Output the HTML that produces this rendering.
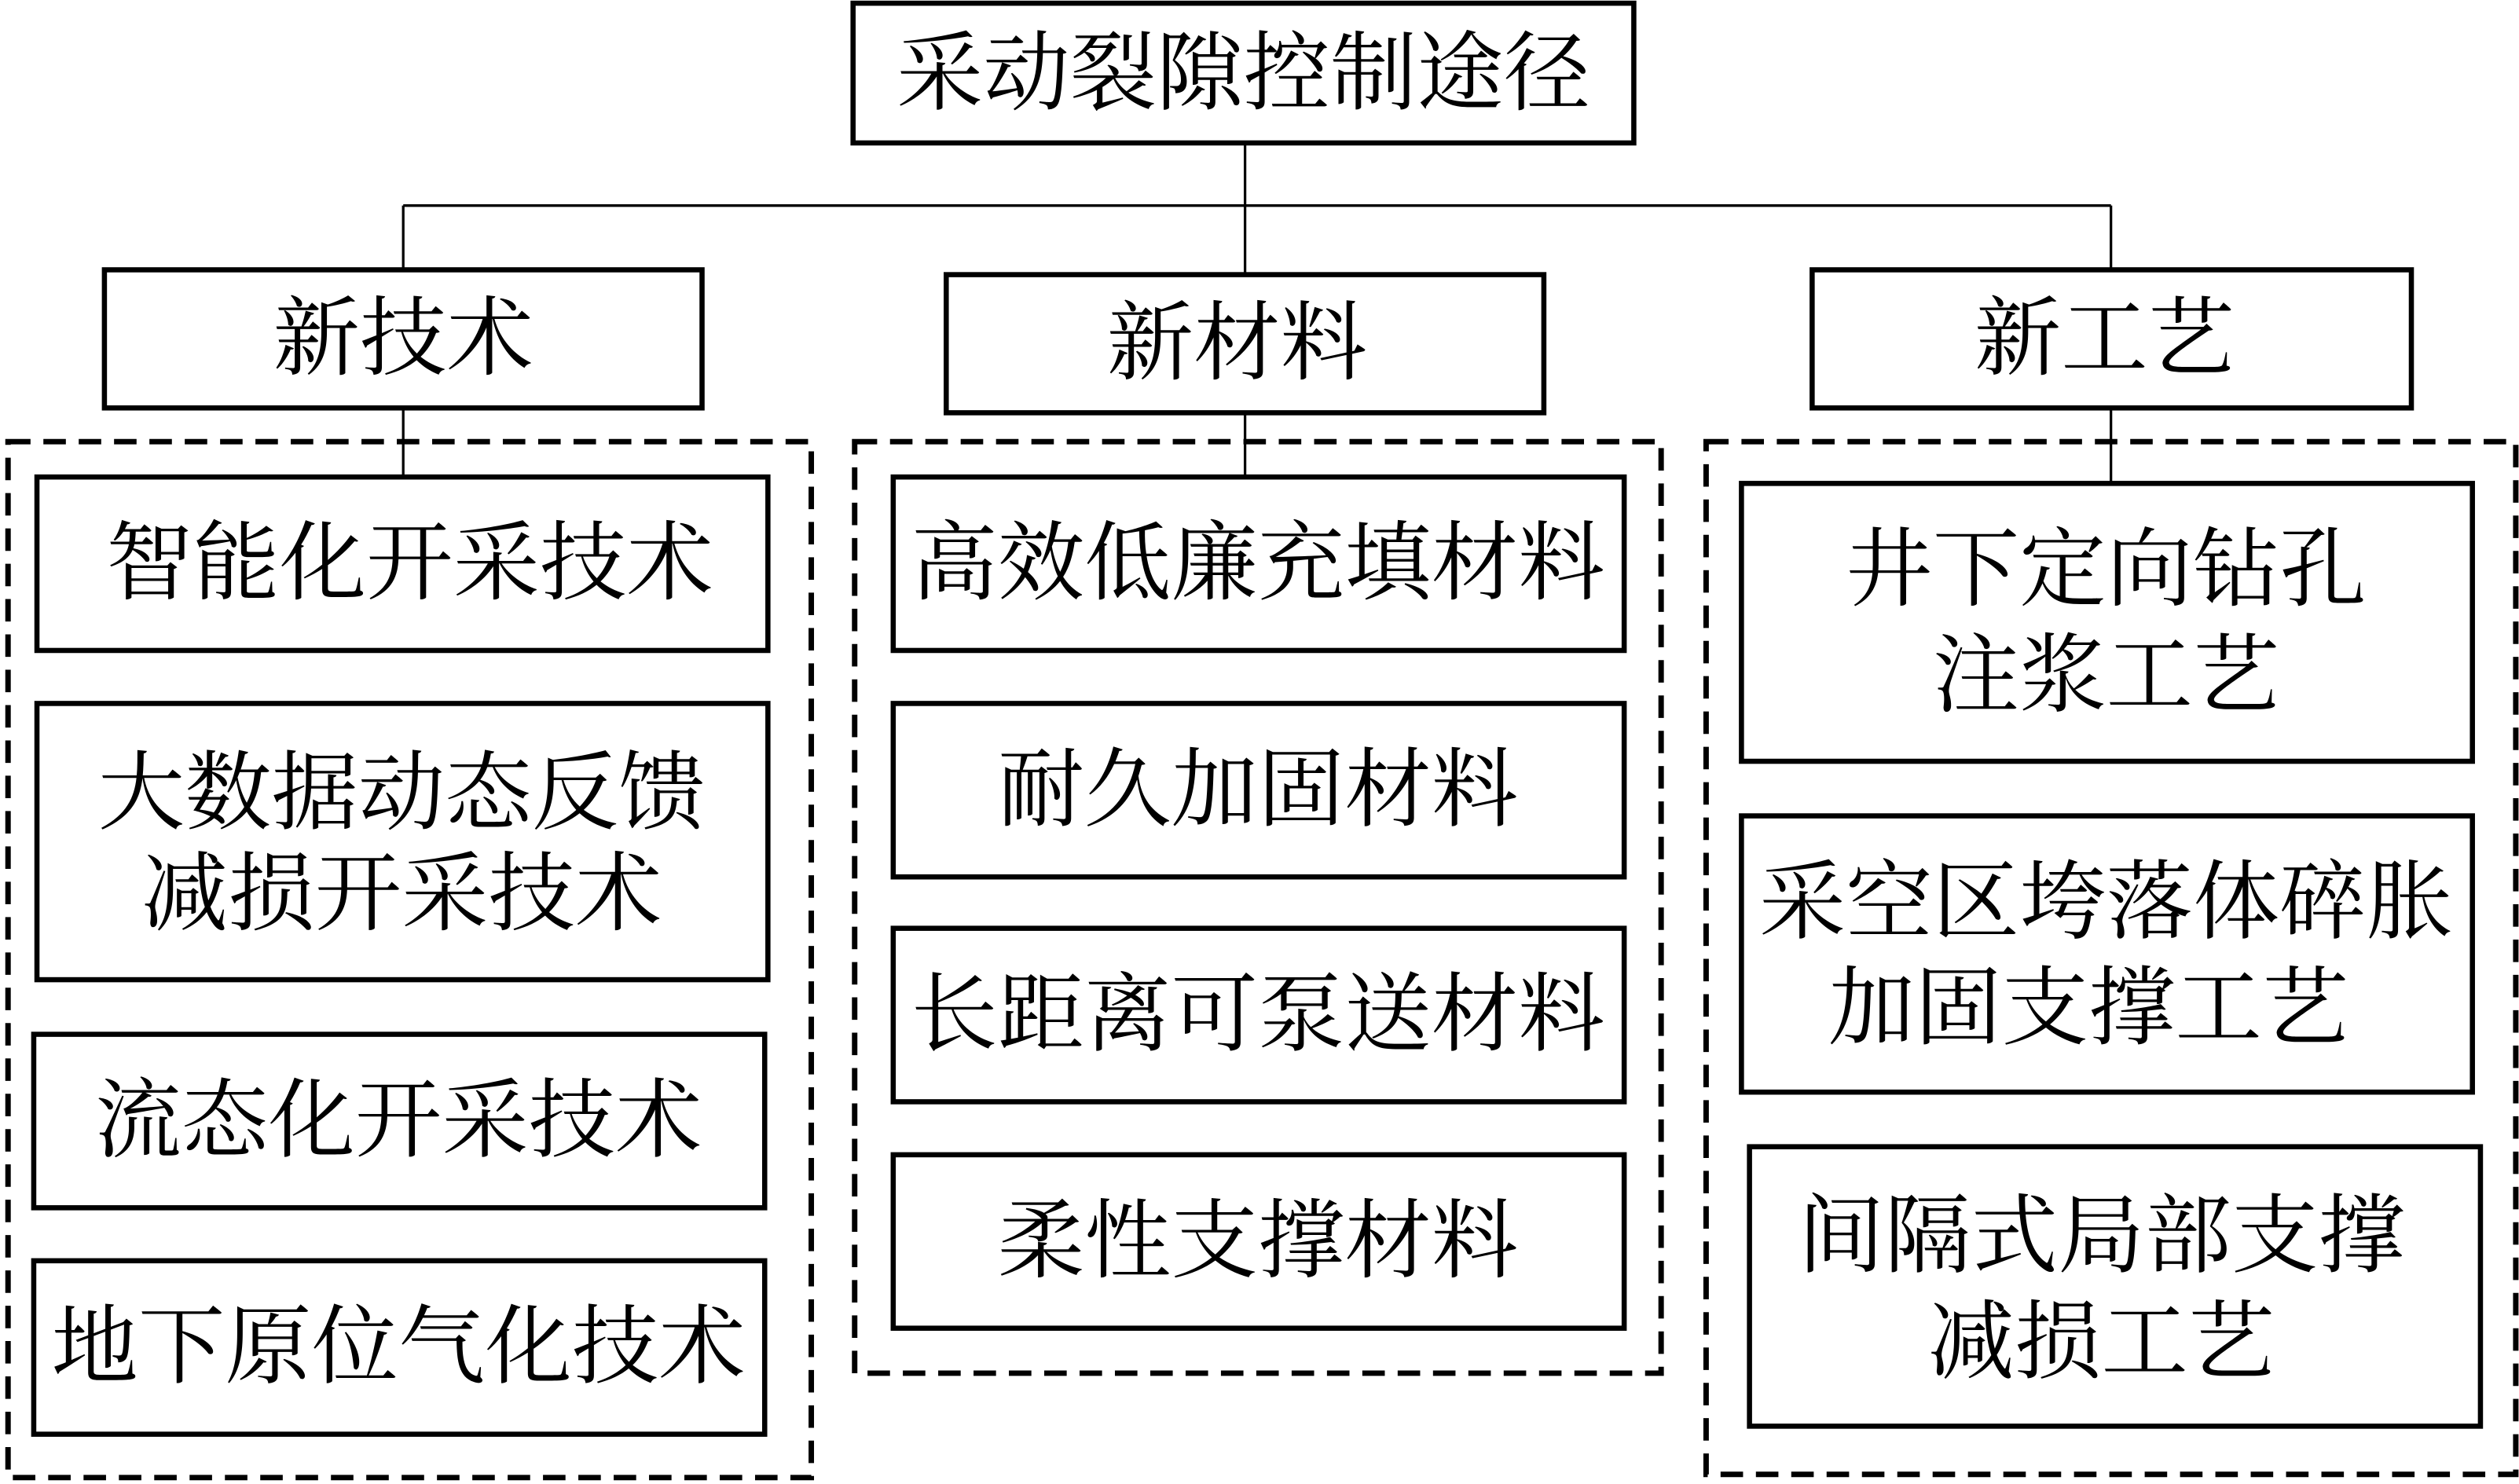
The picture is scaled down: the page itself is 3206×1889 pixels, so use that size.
<!DOCTYPE html>
<html><head><meta charset="utf-8"><style>
html,body{margin:0;padding:0;background:#fff;}
svg{display:block;}
text{font-family:"Liberation Serif","Noto Serif CJK SC",serif;font-size:54px;fill:#000;text-anchor:middle;dominant-baseline:central;}
</style></head><body>
<svg width="3206" height="1889" viewBox="0 0 1568 924" preserveAspectRatio="none" xmlns="http://www.w3.org/2000/svg">
<g fill="none" stroke="#000" stroke-width="1.6">
<line x1="775" y1="89" x2="775" y2="171"/>
<line x1="251" y1="128" x2="1314" y2="128"/>
<line x1="251" y1="128" x2="251" y2="168"/>
<line x1="1314" y1="128" x2="1314" y2="168"/>
<line x1="251" y1="254" x2="251" y2="297"/>
<line x1="775" y1="257" x2="775" y2="297"/>
<line x1="1314" y1="254" x2="1314" y2="301"/>
</g>
<g fill="none" stroke="#000" stroke-width="3.4" stroke-dasharray="14,8">
<rect x="5" y="275" width="500" height="645"/>
<rect x="532" y="275" width="502" height="580"/>
<rect x="1062" y="275" width="504" height="643"/>
</g>
<g fill="#fff" stroke="#000" stroke-width="3.2">
<rect x="531" y="2" width="486" height="87"/>
<rect x="65" y="168" width="372" height="86"/>
<rect x="589" y="171" width="372" height="86"/>
<rect x="1128" y="168" width="373" height="86"/>
<rect x="23" y="297" width="455" height="108"/>
<rect x="23" y="438" width="455" height="172"/>
<rect x="21" y="644" width="455" height="108"/>
<rect x="21" y="785" width="455" height="108"/>
<rect x="556" y="297" width="455" height="108"/>
<rect x="556" y="438" width="455" height="108"/>
<rect x="556" y="578" width="455" height="108"/>
<rect x="556" y="719" width="455" height="108"/>
<rect x="1084" y="301" width="455" height="173"/>
<rect x="1084" y="508" width="455" height="172"/>
<rect x="1089" y="714" width="455" height="174"/>
</g>
<text x="774" y="46">采动裂隙控制途径</text>
<text x="251" y="211">新技术</text>
<text x="770" y="214">新材料</text>
<text x="1310" y="211">新工艺</text>
<text x="255" y="351">智能化开采技术</text>
<text x="250" y="494">大数据动态反馈</text>
<text x="250" y="557">减损开采技术</text>
<text x="248" y="698">流态化开采技术</text>
<text x="248" y="839">地下原位气化技术</text>
<text x="783" y="351">高效低廉充填材料</text>
<text x="783" y="492">耐久加固材料</text>
<text x="783" y="632">长距离可泵送材料</text>
<text x="783" y="773">柔性支撑材料</text>
<text x="1311" y="355">井下定向钻孔</text>
<text x="1311" y="421">注浆工艺</text>
<text x="1311" y="562">采空区垮落体碎胀</text>
<text x="1300" y="628">加固支撑工艺</text>
<text x="1308" y="770">间隔式局部支撑</text>
<text x="1308" y="836">减损工艺</text>
</svg>
</body></html>
